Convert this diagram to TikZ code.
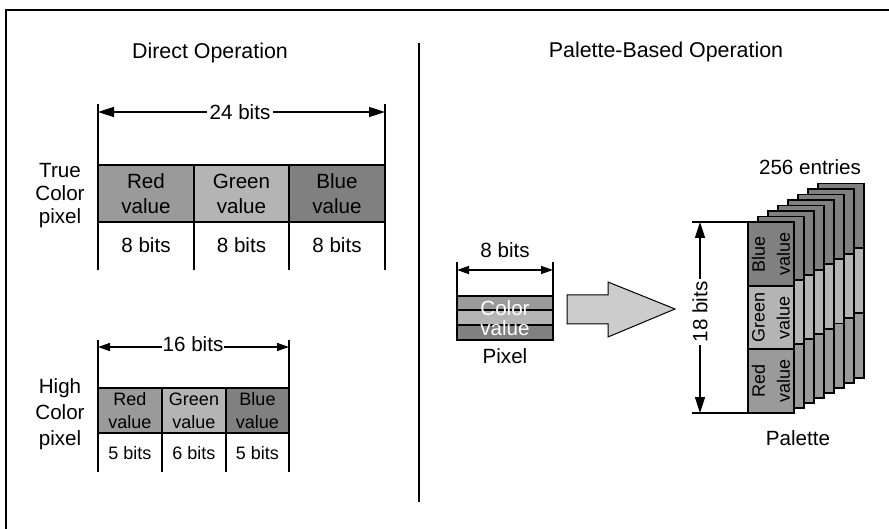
\documentclass[tikz,border=0pt]{standalone}
\usepackage{fontspec}
\setmainfont{Liberation Sans}
\usetikzlibrary{arrows.meta}
\definecolor{redv}{HTML}{9A9A9A}
\definecolor{greenv}{HTML}{B4B4B4}
\definecolor{bluev}{HTML}{808080}
\definecolor{bigarrow}{HTML}{CCCCCC}
\tikzset{
  frameline/.style={line width=1pt},
  cell/.style={draw, line width=0.9pt},
  tick/.style={line width=0.8pt},
  dimarrow/.style={line width=0.8pt, {Triangle[length=8pt,width=5pt]}-{Triangle[length=8pt,width=5pt]}},
  dimarrowsmall/.style={line width=0.7pt, {Triangle[length=6pt,width=4pt]}-{Triangle[length=6pt,width=4pt]}},
  title/.style={font=\fontsize{10.7}{13}\selectfont},
  label/.style={font=\fontsize{10.3}{12.5}\selectfont, align=center, inner sep=1pt},
  smalllabel/.style={font=\fontsize{9}{11.5}\selectfont, align=center, inner sep=1pt},
  gaplabel/.style={label, fill=white, inner sep=1.5pt},
}
\begin{document}
\begin{tikzpicture}[x=0.5pt, y=-0.5pt]
\useasboundingbox (0,0) rectangle (889,529);
% outer frame (top and left edges) and central divider
\draw[frameline] (6,529) -- (6,10) -- (889,10);
\draw[frameline] (419,43) -- (419,502);

% ---------- Direct operation ----------
\node[title] (tdirect) at (210,53) {Direct Operation};

% true colour pixel
\coordinate (tl) at (98,104);  \coordinate (tr) at (385,104);
\coordinate (tlb) at (98,270); \coordinate (trb) at (385,270);
\draw[tick] (tl) -- (tlb);
\draw[tick] (tr) -- (trb);
\draw[tick] (194,222) -- (194,270);
\draw[tick] (289,222) -- (289,270);
\coordinate (a24l) at (98,112); \coordinate (a24r) at (385,112);
\draw[dimarrow] (a24l) -- (a24r);
\node[gaplabel] (l24) at (240,112) {24 bits};

\draw[cell, fill=redv]   (98,165)  rectangle (194,222) node[midway, label] (tcr) {Red\\value};
\draw[cell, fill=greenv] (194,165) rectangle (289,222) node[midway, label] (tcg) {Green\\value};
\draw[cell, fill=bluev]  (289,165) rectangle (385,222) node[midway, label] (tcb) {Blue\\value};
\node[label] (tb1) at (146,245) {8 bits};
\node[label] (tb2) at (241.5,245) {8 bits};
\node[label] (tb3) at (337,245) {8 bits};
\node[label, font=\fontsize{10.3}{11.5}\selectfont] (ttrue) at (60,196) {True\\Color\\pixel};

% high colour pixel
\draw[tick] (98,340) -- (98,472);
\draw[tick] (289,340) -- (289,472);
\draw[tick] (162,433) -- (162,472);
\draw[tick] (226,433) -- (226,472);
\coordinate (a16l) at (98,347); \coordinate (a16r) at (289,347);
\draw[dimarrowsmall] (a16l) -- (a16r);
\node[gaplabel, inner sep=0.5pt] (l16) at (193,344) {16 bits};

\draw[cell, fill=redv]   (98,388)  rectangle (162,433) node[midway, smalllabel] (hcr) {Red\\value};
\draw[cell, fill=greenv] (162,388) rectangle (226,433) node[midway, smalllabel] (hcg) {Green\\value};
\draw[cell, fill=bluev]  (226,388) rectangle (289,433) node[midway, smalllabel] (hcb) {Blue\\value};
\node[smalllabel] (hb1) at (130,453) {5 bits};
\node[smalllabel] (hb2) at (194,453) {6 bits};
\node[smalllabel] (hb3) at (257.5,453) {5 bits};
\node[label, font=\fontsize{10.3}{13}\selectfont] (thigh) at (60,414) {High\\Color\\pixel};

% ---------- Palette-based operation ----------
\node[title] (tpal) at (666,52) {Palette-Based Operation};

% pixel with index
\draw[tick] (457,262) -- (457,296);
\draw[tick] (553,262) -- (553,296);
\coordinate (a8l) at (457,270); \coordinate (a8r) at (553,270);
\draw[dimarrowsmall] (a8l) -- (a8r);
\node[label] (l8) at (505,250) {8 bits};
\draw[cell, fill=redv]   (457,296) rectangle (553,310);
\draw[cell, fill=greenv] (457,310) rectangle (553,325);
\draw[cell, fill=bluev]  (457,325) rectangle (553,340);
\node[label, text=white, font=\fontsize{10.3}{10}\selectfont] (cval) at (505,318) {Color\\value};
\node[label] (lpixel) at (505,356) {Pixel};

% block arrow
\draw[fill=bigarrow, line width=0.5pt]
  (567,295) -- (608,295) -- (608,282) -- (675,309) -- (608,337) -- (608,324) -- (567,324) -- cycle;

% palette: stacked entries, back to front
\foreach \i in {7,...,0}{
  \pgfmathsetmacro\pl{748+10*\i}
  \pgfmathsetmacro\pr{794+10*\i}
  \pgfmathsetmacro\pt{222-5.5*\i}
  \pgfmathsetmacro\pb{413-5*\i}
  \pgfmathsetmacro\pa{\pt+(\pb-\pt)/3}
  \pgfmathsetmacro\pc{\pt+2*(\pb-\pt)/3}
  \draw[cell, fill=bluev]  (\pl,\pt) rectangle (\pr,\pa);
  \draw[cell, fill=greenv] (\pl,\pa) rectangle (\pr,\pc);
  \draw[cell, fill=redv]   (\pl,\pc) rectangle (\pr,\pb);
}
\node[label, rotate=90, font=\fontsize{9}{12.5}\selectfont] (pb) at (771,254) {Blue\\value};
\node[label, rotate=90, font=\fontsize{9}{12.5}\selectfont] (pg) at (771,317.5) {Green\\value};
\node[label, rotate=90, font=\fontsize{9}{12.5}\selectfont] (pr) at (771,381) {Red\\value};

% 18-bit dimension
\coordinate (d18t) at (700,222); \coordinate (d18b) at (700,413);
\draw[tick] (692,222) -- (748,222);
\draw[tick] (692,413) -- (748,413);
\draw[dimarrow] (d18t) -- (d18b);
\node[gaplabel, rotate=90] (l18) at (700,312) {18 bits};

\node[label] (l256) at (810,167) {256 entries};
\node[label] (lpal) at (798,438) {Palette};
\end{tikzpicture}
\end{document}
